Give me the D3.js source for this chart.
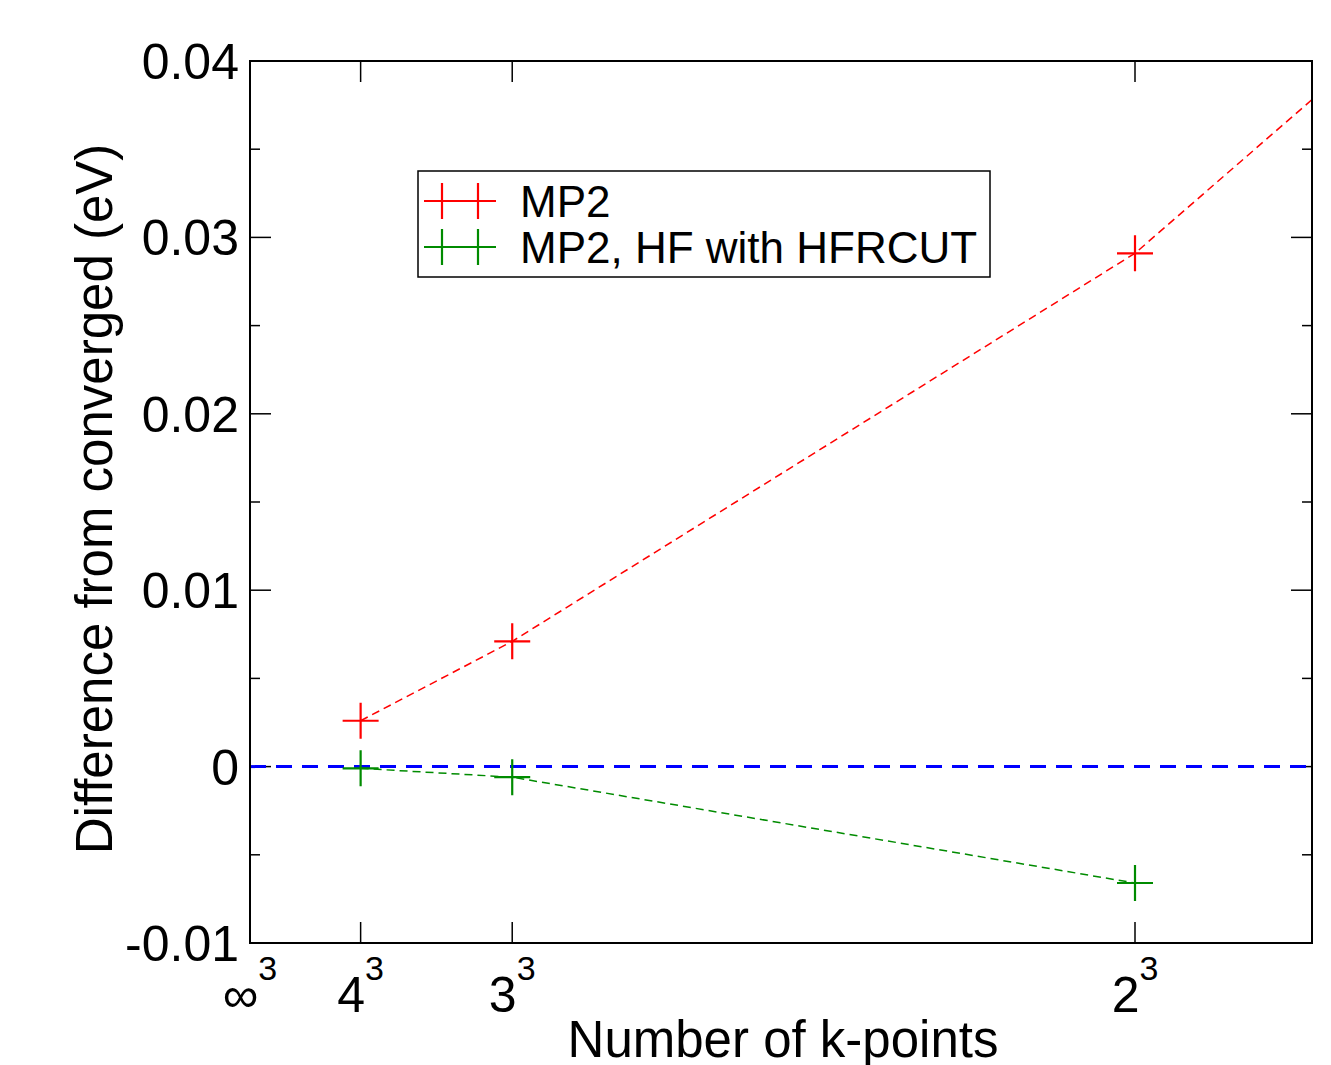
<!DOCTYPE html>
<html lang="en">
<head>
  <meta charset="UTF-8">
  <title>k-point convergence</title>
  <script src="https://cdn.jsdelivr.net/npm/d3@7"></script>
  <style>
    body { margin: 0; background: #fff; }
    svg text { font-family: "Liberation Sans", Arial, Helvetica, sans-serif; fill: #000; }
  </style>
</head>
<body>
  <div id="chart"></div>
  <script>
    // k-point meshes (N x N x N); x position is 1/N^3, infinity -> 0
    const kMesh = [Infinity, 4, 3, 2];
    const kLabels = ["\u221E", "4", "3", "2"];

    // MP2 energy difference from converged value (eV); last point (1^3) lies off the plot
    const mp2K = [4, 3, 2, 1];
    const mp2Diff = [0.0026, 0.0071, 0.0291, 0.334];

    // MP2 with HF done using HFRCUT
    const hfrcutK = [4, 3, 2];
    const hfrcutDiff = [-0.0001, -0.0006, -0.0066];

    const yTicks = [-0.01, 0, 0.01, 0.02, 0.03, 0.04];
    const yTickLabels = ["-0.01", "0", "0.01", "0.02", "0.03", "0.04"];
    const yMinor = [-0.005, 0.005, 0.015, 0.025, 0.035];

    const W = 1331, H = 1065;
    const margin = { top: 61, right: 19, bottom: 122, left: 250 };
    const width = W - margin.left - margin.right,
      height = H - margin.top - margin.bottom;

    const inv3 = n => (n === Infinity ? 0 : 1 / (n * n * n));

    const x = d3.scaleLinear().domain([0, 0.15]).range([0, width]);
    const y = d3.scaleLinear().domain([-0.01, 0.04]).range([height, 0]);

    const svg = d3.select("#chart").append("svg")
      .attr("width", W).attr("height", H);

    svg.append("defs").append("clipPath").attr("id", "clip")
      .append("rect").attr("width", width).attr("height", height);

    const g = svg.append("g")
      .attr("transform", "translate(" + margin.left + "," + margin.top + ")");

    // ticks on all four sides, pointing inward
    const tickLine = (sel, x1, y1, x2, y2) => sel.append("line")
      .attr("x1", x1).attr("y1", y1).attr("x2", x2).attr("y2", y2)
      .attr("stroke", "#000").attr("stroke-width", 1.5);

    const ticks = g.append("g");
    yTicks.forEach(v => {
      tickLine(ticks, 0, y(v), 21, y(v));
      tickLine(ticks, width - 21, y(v), width, y(v));
    });
    yMinor.forEach(v => {
      tickLine(ticks, 0, y(v), 10, y(v));
      tickLine(ticks, width - 10, y(v), width, y(v));
    });
    kMesh.slice(1).forEach(n => {
      tickLine(ticks, x(inv3(n)), height, x(inv3(n)), height - 21);
      tickLine(ticks, x(inv3(n)), 0, x(inv3(n)), 21);
    });

    // y tick labels
    g.append("g").selectAll("text")
      .data(yTicks)
      .enter().append("text")
      .attr("x", -11)
      .attr("y", d => y(d) + 18)
      .attr("text-anchor", "end")
      .attr("font-size", "50px")
      .text((d, i) => yTickLabels[i]);

    // x tick labels: N with superscript 3
    const xl = g.append("g").selectAll("text")
      .data(kMesh)
      .enter().append("text")
      .attr("x", d => x(inv3(d)))
      .attr("y", height + 69)
      .attr("text-anchor", "middle")
      .attr("font-size", "50px");
    xl.append("tspan").text((d, i) => kLabels[i]);
    xl.append("tspan").attr("font-size", "34px").attr("dy", -32).text("3");

    // zero reference line
    g.append("line")
      .attr("x1", 0).attr("x2", width)
      .attr("y1", y(0)).attr("y2", y(0))
      .attr("stroke", "#0000ff").attr("stroke-width", 3)
      .attr("stroke-dasharray", "16,10");

    const series = [
      { k: mp2K, v: mp2Diff, color: "#ff0000", name: "MP2" },
      { k: hfrcutK, v: hfrcutDiff, color: "#008b00", name: "MP2, HF with HFRCUT" }
    ];

    const line = d3.line().x(d => x(d[0])).y(d => y(d[1]));
    const plot = g.append("g").attr("clip-path", "url(#clip)");

    series.forEach(s => {
      const pts = s.k.map((n, i) => [inv3(n), s.v[i]]);
      plot.append("path")
        .datum(pts)
        .attr("d", line)
        .attr("fill", "none")
        .attr("stroke", s.color)
        .attr("stroke-width", 1.5)
        .attr("stroke-dasharray", "8,5");
      plot.selectAll(null)
        .data(pts)
        .enter().append("path")
        .attr("d", d => {
          const cx = x(d[0]), cy = y(d[1]);
          return "M" + (cx - 18) + "," + cy + "H" + (cx + 18) +
            "M" + cx + "," + (cy - 18) + "V" + (cy + 18);
        })
        .attr("stroke", s.color)
        .attr("stroke-width", 2.2)
        .attr("fill", "none");
    });

    // frame
    g.append("rect")
      .attr("width", width).attr("height", height)
      .attr("fill", "none").attr("stroke", "#000").attr("stroke-width", 2);

    // legend
    const lg = svg.append("g").attr("transform", "translate(418,171)");
    lg.append("rect")
      .attr("width", 572).attr("height", 106)
      .attr("fill", "#fff").attr("stroke", "#000").attr("stroke-width", 1.5);
    series.forEach((s, i) => {
      const ly = 30 + i * 46;
      lg.append("line")
        .attr("x1", 9).attr("x2", 77).attr("y1", ly).attr("y2", ly)
        .attr("stroke", s.color).attr("stroke-width", 1.5);
      [24, 60].forEach(px => {
        lg.append("path")
          .attr("d", "M" + (px - 18) + "," + ly + "H" + (px + 18) +
            "M" + px + "," + (ly - 18) + "V" + (ly + 18))
          .attr("stroke", s.color).attr("stroke-width", 2.2);
      });
      lg.append("text")
        .attr("x", 102).attr("y", ly + 16)
        .attr("font-size", "44px")
        .text(s.name);
    });

    // axis titles
    svg.append("text")
      .attr("x", 783)
      .attr("y", 1057)
      .attr("text-anchor", "middle")
      .attr("font-size", "51px")
      .text("Number of k-points");

    svg.append("text")
      .attr("transform", "translate(112," + 499 + ") rotate(-90)")
      .attr("text-anchor", "middle")
      .attr("font-size", "51px")
      .text("Difference from converged (eV)");
  </script>
</body>
</html>
